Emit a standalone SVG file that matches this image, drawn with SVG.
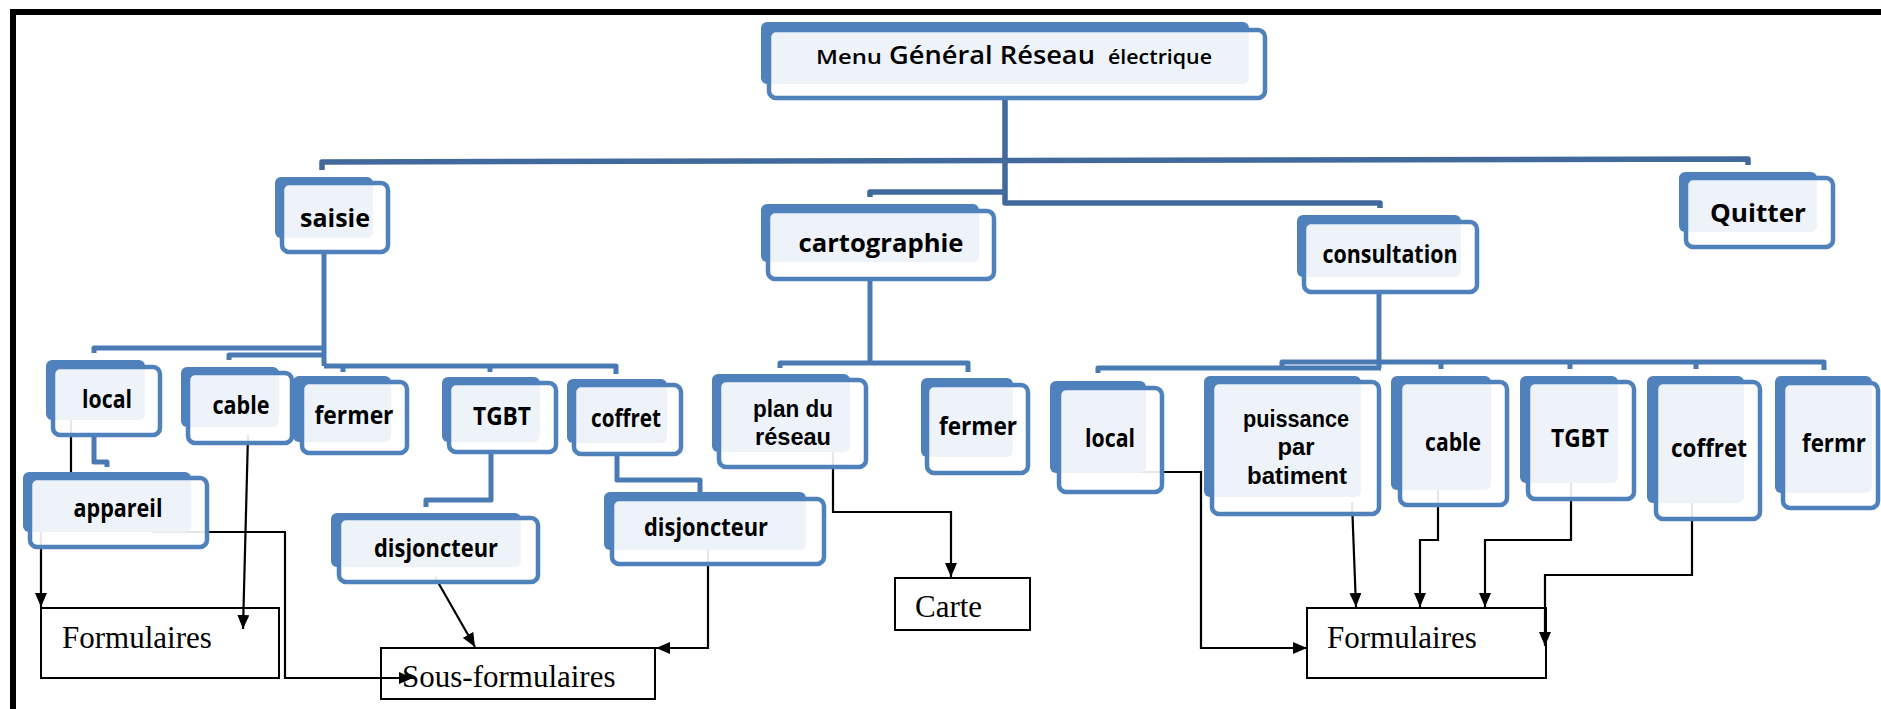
<svg xmlns="http://www.w3.org/2000/svg" width="1881" height="709" viewBox="0 0 1881 709">
  <style>
    .back{fill:#4F81BD}
    .front{fill:#fff;fill-opacity:.9;stroke:#4F81BD;stroke-width:4.5}
    .lbl{font-family:"Open Sans","Liberation Sans",sans-serif;font-weight:700;fill:#000;text-anchor:middle;font-size:25px}
    .multi{font-family:"Liberation Sans",Arial,sans-serif;font-size:24px}
    .bus{fill:none;stroke:#4A7AB4;stroke-width:5;stroke-linejoin:round}
    .bus0{stroke:#41699C;stroke-width:5.5}
    .flow{fill:none;stroke:#000;stroke-width:2.2}
    .box{fill:none;stroke:#000;stroke-width:2}
    .boxtxt{font-family:"Liberation Serif","Times New Roman",serif;font-size:31px;fill:#000}
  </style>
  <defs>
    <marker id="arr" markerWidth="14" markerHeight="12" refX="14" refY="6" orient="auto" markerUnits="userSpaceOnUse">
      <path d="M0,0 L14,6 L0,12 z" fill="#000"/>
    </marker>
  </defs>

  <!-- page frame (top and left edges only) -->
  <rect x="10" y="9" width="1871" height="6" fill="#000"/>
  <rect x="10" y="9" width="6" height="700" fill="#000"/>

  <!-- tree connectors -->
  <g id="tree-links">
    <path class="bus bus0" d="M1005,98 V203 H1380 V208"/>
    <path class="bus bus0" d="M322,170 V162 L1748,159 V165"/>
    <path class="bus bus0" d="M870,197 V192 H1005"/>

    <path class="bus" d="M324,252 V366"/>
    <path class="bus" d="M94,353 V348 H324"/>
    <path class="bus" d="M229,360 V355 H324"/>
    <path class="bus" d="M324,366 H616 V374 M343,366 V372 M490,366 V372"/>
    <path class="bus" d="M94,435 V462 H107 V467"/>
    <path class="bus" d="M491,452 V500 H426 V507"/>
    <path class="bus" d="M617,454 V480 H700 V492"/>

    <path class="bus" d="M870,279 V365"/>
    <path class="bus" d="M780,368 V363 H968 V372"/>

    <path class="bus" d="M1379,292 V368"/>
    <path class="bus" d="M1282,367 V362 H1824 V370 M1441,362 V369 M1570,362 V369 M1696,362 V369"/>
    <path class="bus" d="M1098,373 V368 H1381"/>
  </g>

  <!-- form links -->
  <g id="form-links">
    <path class="flow" d="M71,402 V504 H41 V607" marker-end="url(#arr)"/>
    <path class="flow" d="M248,435 L243,629" marker-end="url(#arr)"/>
    <path class="flow" d="M152,532 H285 V678 H413" marker-end="url(#arr)"/>
    <path class="flow" d="M435,577 L475,647" marker-end="url(#arr)"/>
    <path class="flow" d="M760,548 H708 V648 H656" marker-end="url(#arr)"/>
    <path class="flow" d="M833,445 V512 H951 V577" marker-end="url(#arr)"/>
    <path class="flow" d="M1093,472 H1201 V648 H1307" marker-end="url(#arr)"/>
    <path class="flow" d="M1352,502 L1356,607" marker-end="url(#arr)"/>
    <path class="flow" d="M1438,472 V540 H1420 V607" marker-end="url(#arr)"/>
    <path class="flow" d="M1571,472 V540 H1485 V607" marker-end="url(#arr)"/>
    <path class="flow" d="M1692,502 V575 H1545 V646" marker-end="url(#arr)"/>
  </g>

  <g id="menu">
    <rect class="back" x="761" y="22" width="488" height="62" rx="6"/>
    <rect class="front" x="769" y="30" width="496" height="68" rx="7"/>
    <text class="lbl" y="64" style="text-anchor:start;font-weight:600"><tspan x="816" font-size="20" textLength="66" lengthAdjust="spacingAndGlyphs">Menu</tspan><tspan x="889" font-size="26" textLength="206" lengthAdjust="spacingAndGlyphs">Général Réseau</tspan><tspan x="1108" font-size="20" textLength="104" lengthAdjust="spacingAndGlyphs">électrique</tspan></text>
  </g>

  <g id="saisie">
    <rect class="back" x="275" y="177" width="98" height="61" rx="6"/>
    <rect class="front" x="282" y="183" width="106" height="69" rx="7"/>
    <text class="lbl" x="335" y="227" font-size="29" textLength="70" lengthAdjust="spacingAndGlyphs">saisie</text>
  </g>
  <g id="cartographie">
    <rect class="back" x="761" y="204" width="218" height="58" rx="6"/>
    <rect class="front" x="768" y="211" width="226" height="68" rx="7"/>
    <text class="lbl" x="881" y="252" font-size="29" textLength="165" lengthAdjust="spacingAndGlyphs">cartographie</text>
  </g>
  <g id="consultation">
    <rect class="back" x="1297" y="215" width="164" height="62" rx="6"/>
    <rect class="front" x="1304" y="222" width="173" height="70" rx="7"/>
    <text class="lbl" x="1390" y="263" textLength="135" lengthAdjust="spacingAndGlyphs">consultation</text>
  </g>
  <g id="quitter">
    <rect class="back" x="1679" y="172" width="138" height="60" rx="6"/>
    <rect class="front" x="1686" y="178" width="147" height="69" rx="7"/>
    <text class="lbl" x="1758" y="222" font-size="30" textLength="96" lengthAdjust="spacingAndGlyphs">Quitter</text>
  </g>

  <g id="saisie-local">
    <rect class="back" x="46" y="360" width="99" height="60" rx="6"/>
    <rect class="front" x="53" y="367" width="107" height="68" rx="7"/>
    <text class="lbl" x="107" y="408" textLength="50" lengthAdjust="spacingAndGlyphs">local</text>
  </g>
  <g id="saisie-cable">
    <rect class="back" x="181" y="367" width="98" height="60" rx="6"/>
    <rect class="front" x="188" y="373" width="104" height="70" rx="7"/>
    <text class="lbl" x="241" y="414" textLength="57" lengthAdjust="spacingAndGlyphs">cable</text>
  </g>
  <g id="saisie-fermer">
    <rect class="back" x="293" y="376" width="98" height="66" rx="6"/>
    <rect class="front" x="302" y="382" width="105" height="71" rx="7"/>
    <text class="lbl" x="354" y="424" textLength="79" lengthAdjust="spacingAndGlyphs">fermer</text>
  </g>
  <g id="saisie-tgbt">
    <rect class="back" x="442" y="377" width="98" height="65" rx="6"/>
    <rect class="front" x="449" y="383" width="107" height="69" rx="7"/>
    <text class="lbl" x="502" y="425" textLength="58" lengthAdjust="spacingAndGlyphs">TGBT</text>
  </g>
  <g id="saisie-coffret">
    <rect class="back" x="567" y="379" width="100" height="64" rx="6"/>
    <rect class="front" x="574" y="385" width="107" height="69" rx="7"/>
    <text class="lbl" x="626" y="427" textLength="70" lengthAdjust="spacingAndGlyphs">coffret</text>
  </g>
  <g id="saisie-appareil">
    <rect class="back" x="23" y="472" width="168" height="60" rx="6"/>
    <rect class="front" x="30" y="478" width="177" height="69" rx="7"/>
    <text class="lbl" x="118" y="517" textLength="89" lengthAdjust="spacingAndGlyphs">appareil</text>
  </g>
  <g id="tgbt-disjoncteur">
    <rect class="back" x="331" y="513" width="190" height="54" rx="6"/>
    <rect class="front" x="339" y="518" width="199" height="64" rx="7"/>
    <text class="lbl" x="436" y="557" textLength="124" lengthAdjust="spacingAndGlyphs">disjoncteur</text>
  </g>
  <g id="coffret-disjoncteur">
    <rect class="back" x="604" y="492" width="202" height="58" rx="6"/>
    <rect class="front" x="612" y="499" width="212" height="65" rx="7"/>
    <text class="lbl" x="706" y="536" textLength="124" lengthAdjust="spacingAndGlyphs">disjoncteur</text>
  </g>

  <g id="plan-reseau">
    <rect class="back" x="712" y="374" width="138" height="78" rx="6"/>
    <rect class="front" x="719" y="380" width="147" height="87" rx="7"/>
    <text class="lbl multi"><tspan x="793" y="417" textLength="80" lengthAdjust="spacingAndGlyphs">plan du</tspan><tspan x="793" y="445" textLength="76" lengthAdjust="spacingAndGlyphs">réseau</tspan></text>
  </g>
  <g id="carto-fermer">
    <rect class="back" x="921" y="378" width="92" height="79" rx="6"/>
    <rect class="front" x="927" y="385" width="101" height="88" rx="7"/>
    <text class="lbl" x="978" y="435" textLength="78" lengthAdjust="spacingAndGlyphs">fermer</text>
  </g>

  <g id="consult-local">
    <rect class="back" x="1050" y="381" width="96" height="92" rx="6"/>
    <rect class="front" x="1059" y="388" width="103" height="104" rx="7"/>
    <text class="lbl" x="1110" y="447" textLength="50" lengthAdjust="spacingAndGlyphs">local</text>
  </g>
  <g id="consult-puissance">
    <rect class="back" x="1204" y="376" width="157" height="121" rx="6"/>
    <rect class="front" x="1212" y="382" width="167" height="132" rx="7"/>
    <text class="lbl multi"><tspan x="1296" y="427" textLength="106" lengthAdjust="spacingAndGlyphs">puissance</tspan><tspan x="1296" y="455" textLength="37" lengthAdjust="spacingAndGlyphs">par</tspan><tspan x="1297" y="484" textLength="100" lengthAdjust="spacingAndGlyphs">batiment</tspan></text>
  </g>
  <g id="consult-cable">
    <rect class="back" x="1391" y="376" width="100" height="114" rx="6"/>
    <rect class="front" x="1400" y="382" width="107" height="123" rx="7"/>
    <text class="lbl" x="1453" y="451" textLength="56" lengthAdjust="spacingAndGlyphs">cable</text>
  </g>
  <g id="consult-tgbt">
    <rect class="back" x="1520" y="376" width="98" height="107" rx="6"/>
    <rect class="front" x="1528" y="382" width="106" height="117" rx="7"/>
    <text class="lbl" x="1580" y="447" textLength="58" lengthAdjust="spacingAndGlyphs">TGBT</text>
  </g>
  <g id="consult-coffret">
    <rect class="back" x="1647" y="376" width="97" height="127" rx="6"/>
    <rect class="front" x="1656" y="382" width="104" height="137" rx="7"/>
    <text class="lbl" x="1709" y="457" textLength="76" lengthAdjust="spacingAndGlyphs">coffret</text>
  </g>
  <g id="consult-fermr">
    <rect class="back" x="1775" y="376" width="97" height="117" rx="6"/>
    <rect class="front" x="1783" y="383" width="95" height="125" rx="7"/>
    <text class="lbl" x="1834" y="452" textLength="64" lengthAdjust="spacingAndGlyphs">fermr</text>
  </g>

  <g id="formulaires-saisie">
    <rect class="box" x="41" y="608" width="238" height="70"/>
    <text class="boxtxt" x="62" y="648">Formulaires</text>
  </g>
  <g id="sous-formulaires">
    <rect class="box" x="381" y="648" width="274" height="51"/>
    <text class="boxtxt" x="402" y="687">Sous-formulaires</text>
  </g>
  <g id="carte">
    <rect class="box" x="895" y="578" width="135" height="52"/>
    <text class="boxtxt" x="915" y="617">Carte</text>
  </g>
  <g id="formulaires-consultation">
    <rect class="box" x="1307" y="608" width="239" height="70"/>
    <text class="boxtxt" x="1327" y="648">Formulaires</text>
  </g>
</svg>
